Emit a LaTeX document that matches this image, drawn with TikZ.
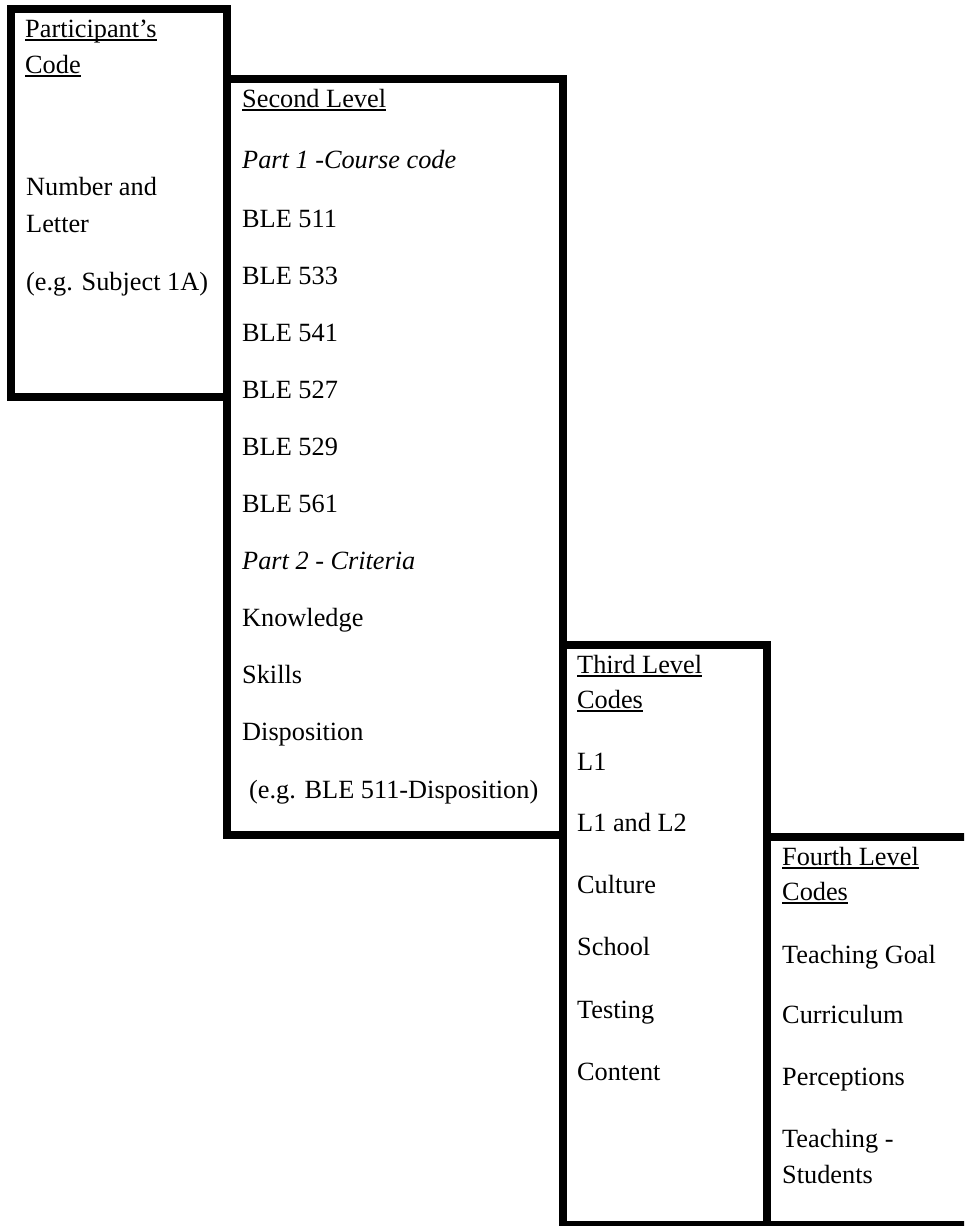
\documentclass[tikz,border=0pt]{standalone}
\usepackage{fontspec}
\setmainfont{Liberation Serif}
\newcommand{\ulx}[1]{\setbox0\hbox{#1}\rlap{\rule[-3.6pt]{\wd0}{1.8pt}}\box0}
\begin{document}
\begin{tikzpicture}[x=1pt,y=-1pt,
  lbl/.style={anchor=base west,inner sep=0pt,font=\fontsize{26.3}{33}\selectfont},
  boxline/.style={line width=8pt,line join=miter}]
\useasboundingbox (0,0) rectangle (964,1226);
\clip (0,0) rectangle (964,1226);
% boxes
\draw[boxline] (11,9) rectangle (227,396.5);
\draw[boxline] (227,79) rectangle (563,834.5);
\draw[boxline] (563,644.5) rectangle (767,1225);
\draw[boxline] (767,837) rectangle (990,1225);
% box 1
\node[lbl] (a1) at (25,37) {\ulx{Participant’s}};
\node[lbl] (a2) at (25,73) {\ulx{Code}};
\node[lbl] (a3) at (26,195) {Number and};
\node[lbl] (a4) at (26,232) {Letter};
\node[lbl] (a5) at (26,290) {(e.g. Subject 1A)};
% box 2
\node[lbl] (b1) at (242,107) {\ulx{Second Level}};
\node[lbl] (b2) at (242,168) {\textit{Part 1 -Course code}};
\node[lbl] (b3) at (242,227) {BLE 511};
\node[lbl] (b4) at (242,284.1) {BLE 533};
\node[lbl] (b5) at (242,341.2) {BLE 541};
\node[lbl] (b6) at (242,398.3) {BLE 527};
\node[lbl] (b7) at (242,455.4) {BLE 529};
\node[lbl] (b8) at (242,512.5) {BLE 561};
\node[lbl] (b9) at (242,569.6) {\textit{Part 2 - Criteria}};
\node[lbl] (b10) at (242,626.7) {Knowledge};
\node[lbl] (b11) at (242,683.8) {Skills};
\node[lbl] (b12) at (242,740.9) {Disposition};
\node[lbl] (b13) at (249,798) {(e.g. BLE 511-Disposition)};
% box 3
\node[lbl] (c1) at (577,673) {\ulx{Third Level}};
\node[lbl] (c2) at (577,708) {\ulx{Codes}};
\node[lbl] (c3) at (577,770) {L1};
\node[lbl] (c4) at (577,831) {L1 and L2};
\node[lbl] (c5) at (577,893) {Culture};
\node[lbl] (c6) at (577,955) {School};
\node[lbl] (c7) at (577,1018) {Testing};
\node[lbl] (c8) at (577,1080) {Content};
% box 4
\node[lbl] (d1) at (782,865) {\ulx{Fourth Level}};
\node[lbl] (d2) at (782,900) {\ulx{Codes}};
\node[lbl] (d3) at (782,963) {Teaching Goal};
\node[lbl] (d4) at (782,1023) {Curriculum};
\node[lbl] (d5) at (782,1085) {Perceptions};
\node[lbl] (d6) at (782,1147) {Teaching -};
\node[lbl] (d7) at (782,1183) {Students};
\end{tikzpicture}
\end{document}
